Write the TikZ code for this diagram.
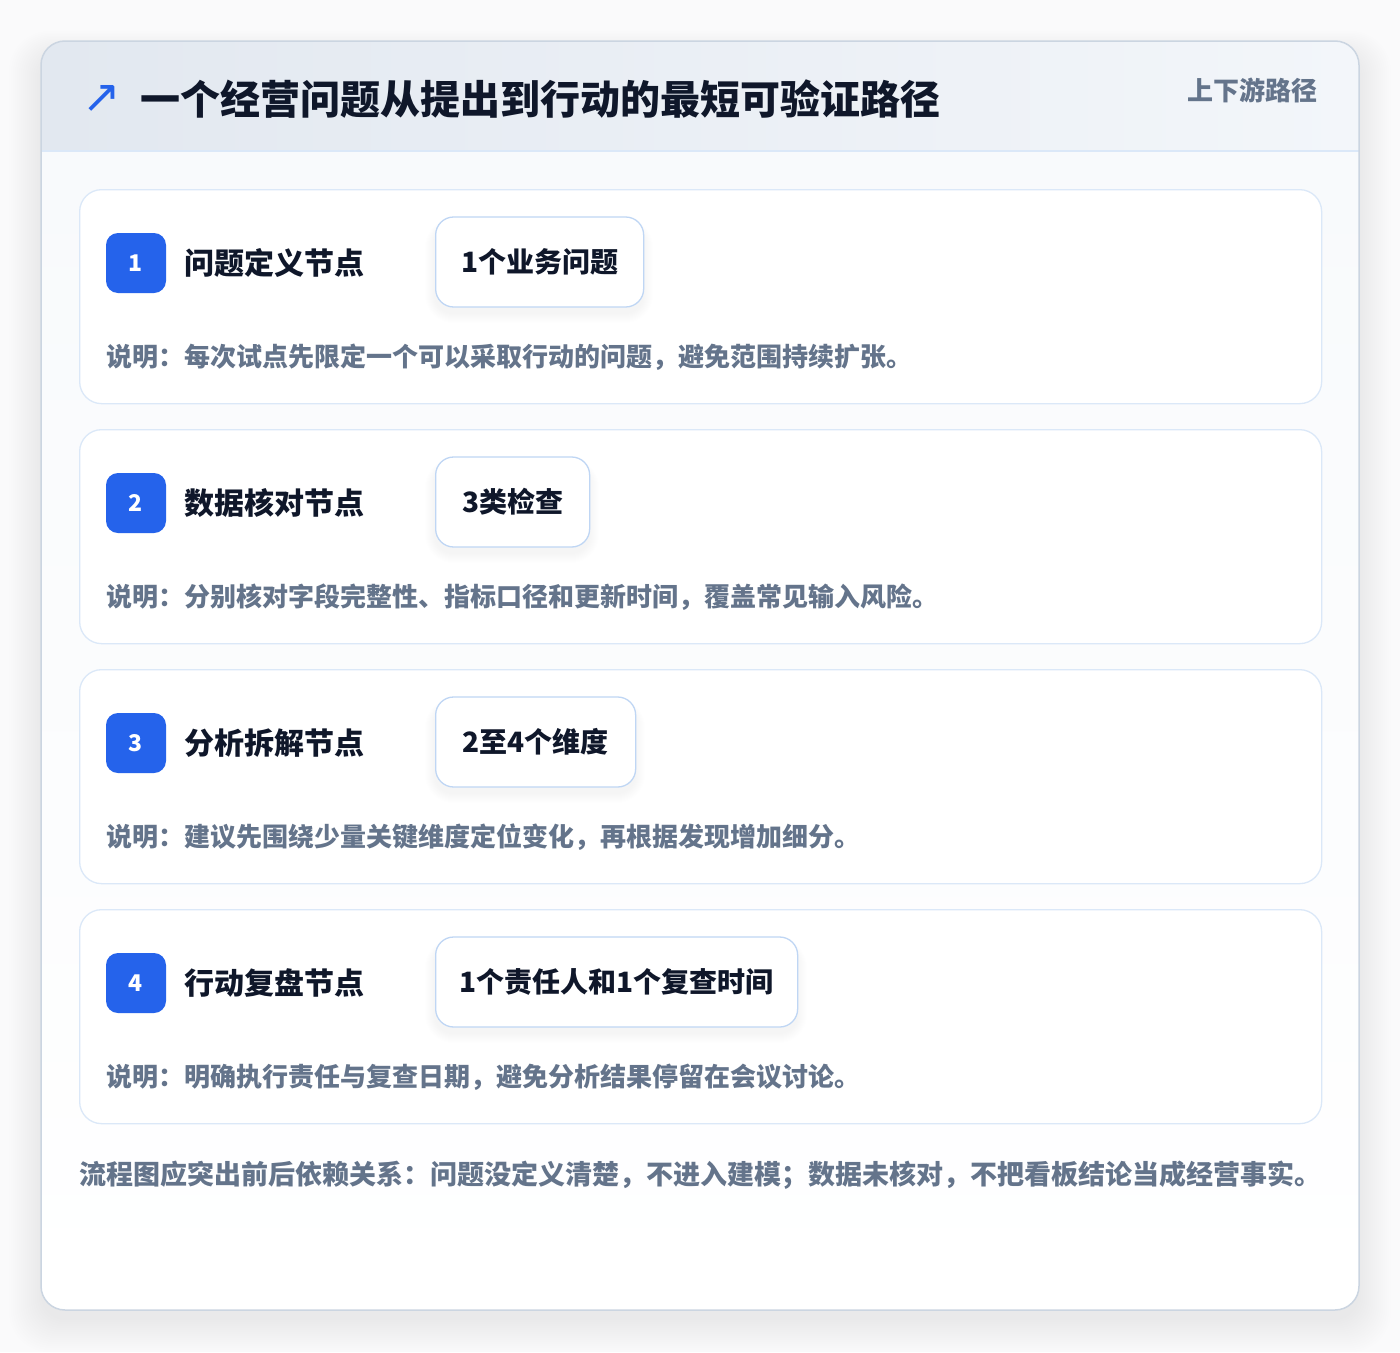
\documentclass[tikz,border=0pt]{standalone}
\usepackage{fontspec}
\setmainfont{Noto Sans CJK SC}
\newfontfamily\dejavu{DejaVu Sans}
\definecolor{ink}{HTML}{0F172A}
\definecolor{muted}{HTML}{64748B}
\definecolor{brand}{HTML}{2563EB}
\definecolor{outline}{HTML}{CBD5E1}
\definecolor{cardline}{HTML}{DBE8F8}
\definecolor{pillline}{HTML}{BFD6F4}
\definecolor{hdrL}{HTML}{E2E8F0}
\definecolor{hdrR}{HTML}{F3F6FA}
\definecolor{bodytop}{HTML}{F8FAFC}
\definecolor{canvas}{HTML}{FAFAFB}
\begin{document}
\begin{tikzpicture}[x=1pt,y=-1pt,
  cardbox/.style={draw=cardline, line width=1.3pt, fill=white, rounded corners=22pt, anchor=north west, minimum width=1242pt, minimum height=214pt, inner sep=0pt},
  badge/.style={fill=brand, rounded corners=12pt, minimum width=60pt, minimum height=60pt, inner sep=0pt, text=white, font=\fontsize{23}{23}\selectfont\bfseries},
  nodetitle/.style={anchor=west, inner sep=0pt, text=ink, font=\fontsize{30}{30}\selectfont\bfseries},
  pill/.style={draw=pillline, line width=1.3pt, fill=white, rounded corners=18pt, minimum height=90pt, inner sep=0pt, anchor=west, text=ink, font=\fontsize{28}{28}\selectfont\bfseries},
  desc/.style={anchor=west, inner sep=0pt, text=muted, font=\fontsize{26}{26}\selectfont\bfseries},
]
\fill[canvas] (0,0) rectangle (1400,1352);
\useasboundingbox (0,0) rectangle (1400,1352);
% outer shadow
\foreach \i in {0,...,16}
  \fill[black, opacity=0.005, rounded corners=24pt+\i pt] (41-\i*2, 41-\i*1.5+14) rectangle (1359+\i*2, 1310+\i*2+10);
% outer card
\fill[white, rounded corners=24pt] (41,41) rectangle (1359,1310);
\begin{scope}
  \clip[rounded corners=24pt] (41,41) rectangle (1359,1310);
  \shade[left color=hdrL, right color=hdrR] (41,41) rectangle (1359,151);
  \shade[top color=bodytop, bottom color=white] (41,151) rectangle (1359,1310);
\end{scope}
\draw[cardline, line width=1.5pt] (41,151) -- (1359,151);
\draw[outline, line width=1.5pt, rounded corners=24pt] (41,41) rectangle (1359,1310);
% header
\node[text=brand, inner sep=0pt, font=\dejavu\fontsize{46}{46}\selectfont] (icon) at (102,99) {↗};
\node[anchor=west, inner sep=0pt, text=ink, font=\fontsize{40}{40}\selectfont\bfseries] (title) at (140,99) {一个经营问题从提出到行动的最短可验证路径};
\node[anchor=east, inner sep=0pt, text=muted, font=\fontsize{26}{26}\selectfont\bfseries] (tag) at (1318,90) {上下游路径};
% cards
\foreach \n/\top/\ttl/\pilltext/\pw/\dtext in {
  1/189/问题定义节点/1个业务问题/208/说明：每次试点先限定一个可以采取行动的问题，避免范围持续扩张。,
  2/429/数据核对节点/3类检查/154/说明：分别核对字段完整性、指标口径和更新时间，覆盖常见输入风险。,
  3/669/分析拆解节点/2至4个维度/200/说明：建议先围绕少量关键维度定位变化，再根据发现增加细分。,
  4/909/行动复盘节点/1个责任人和1个复查时间/362/说明：明确执行责任与复查日期，避免分析结果停留在会议讨论。}{
  \node[cardbox] (card\n) at (79,\top) {};
  \foreach \j in {1,...,10}
    \fill[black, opacity=0.005, rounded corners=18pt+\j pt] (435-\j, \top+28+8-\j*0.6) rectangle (435+\pw+\j, \top+118+6+\j);
  \node[badge] (badge\n) at (136,\top+74) {\n};
  \node[nodetitle] (title\n) at (184,\top+74) {\ttl};
  \node[pill, minimum width=\pw pt] (pill\n) at (435,\top+73) {\pilltext};
  \node[desc] (desc\n) at (106,\top+168) {\dtext};
}
% footer
\node[anchor=west, inner sep=0pt, text=muted, font=\fontsize{27}{27}\selectfont\bfseries] (foot) at (79,1175) {流程图应突出前后依赖关系：问题没定义清楚，不进入建模；数据未核对，不把看板结论当成经营事实。};
\end{tikzpicture}
\end{document}
